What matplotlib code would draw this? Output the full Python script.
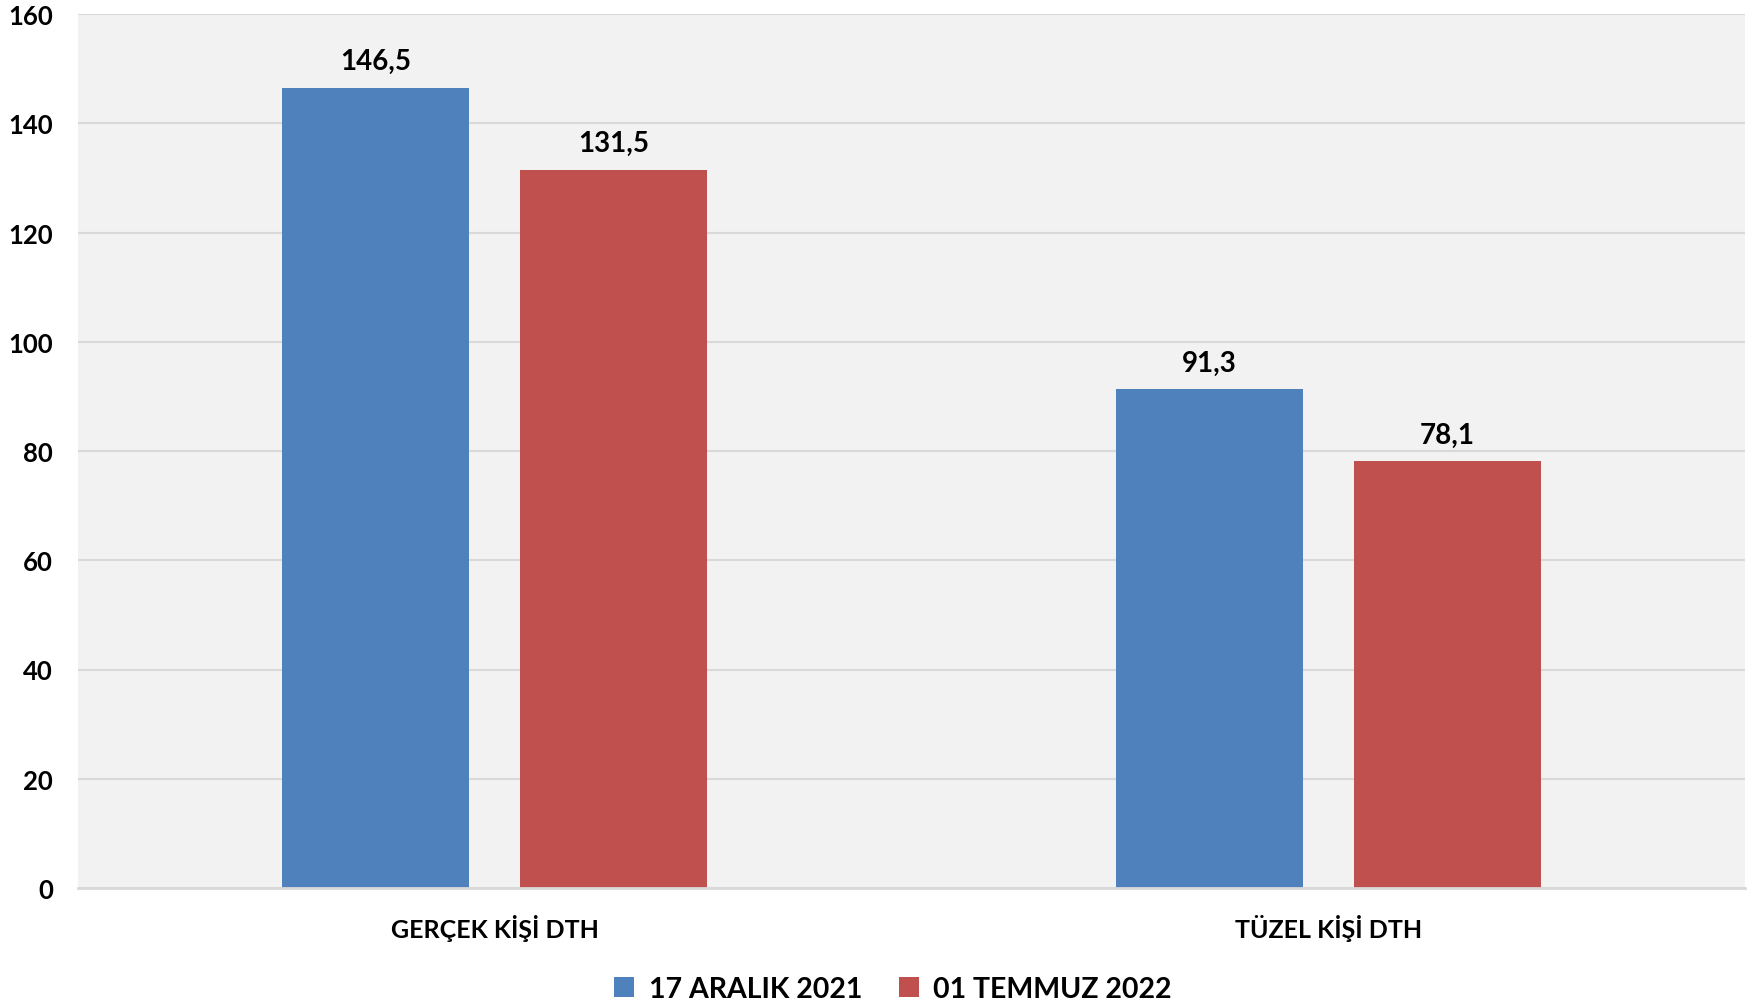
import matplotlib
matplotlib.use("Agg")
import matplotlib.pyplot as plt
import numpy as np

plt.rcParams['font.family'] = ['Lato', 'DejaVu Sans']
plt.rcParams['font.weight'] = 'bold'

categories = ["GERÇEK KİŞİ DTH", "TÜZEL KİŞİ DTH"]
series_names = ["17 ARALIK 2021", "01 TEMMUZ 2022"]
values_2021 = [146.5, 91.3]
values_2022 = [131.5, 78.1]
yticks = [0, 20, 40, 60, 80, 100, 120, 140, 160]

colors = ["#4F81BD", "#C0504D"]

fig = plt.figure(figsize=(17.52, 10.03), dpi=100)
ax = fig.add_axes([78/1752, 1 - 889/1003, (1745-78)/1752, (889-15)/1003])
ax.set_facecolor("#F2F2F2")

x = np.arange(len(categories))
w = 0.224
off = 0.1427
b1 = ax.bar(x - off, values_2021, w, color=colors[0], label=series_names[0], zorder=3)
b2 = ax.bar(x + off, values_2022, w, color=colors[1], label=series_names[1], zorder=3)

for bars, vals in ((b1, values_2021), (b2, values_2022)):
    for rect, v in zip(bars, vals):
        ax.annotate(f"{v:.1f}".replace(".", ","),
                    (rect.get_x() + rect.get_width()/2, rect.get_height()),
                    xytext=(0, 10), textcoords="offset points",
                    ha="center", va="bottom", fontsize=20, fontweight="bold")

ax.set_xlim(-0.5, 1.5)
ax.set_ylim(0, 160)
ax.set_yticks(yticks)
ax.set_yticklabels([str(t) for t in yticks], fontsize=18.5, fontweight="bold")
ax.set_xticks(x)
ax.set_xticklabels(categories, fontsize=18, fontweight="bold")
ax.tick_params(axis="both", length=0)
ax.tick_params(axis="y", pad=18)
ax.tick_params(axis="x", pad=19)
ax.yaxis.grid(True, color="#D9D9D9", linewidth=1.5, zorder=0)
ax.set_axisbelow(True)
for s in ("top", "right", "left"):
    ax.spines[s].set_visible(False)
ax.spines["bottom"].set_color("#D9D9D9")
ax.spines["bottom"].set_linewidth(2)
ax.spines["bottom"].set_zorder(4)

leg = fig.legend(handles=[b1, b2], labels=series_names, loc="center",
                 bbox_to_anchor=(893/1752, 1 - 990/1003), ncol=2, frameon=False,
                 prop={"size": 20.5, "weight": "bold"}, handlelength=0.7, handleheight=0.7,
                 handletextpad=0.5, columnspacing=1.3)

fig.savefig("out.png", dpi=100, facecolor="white")
